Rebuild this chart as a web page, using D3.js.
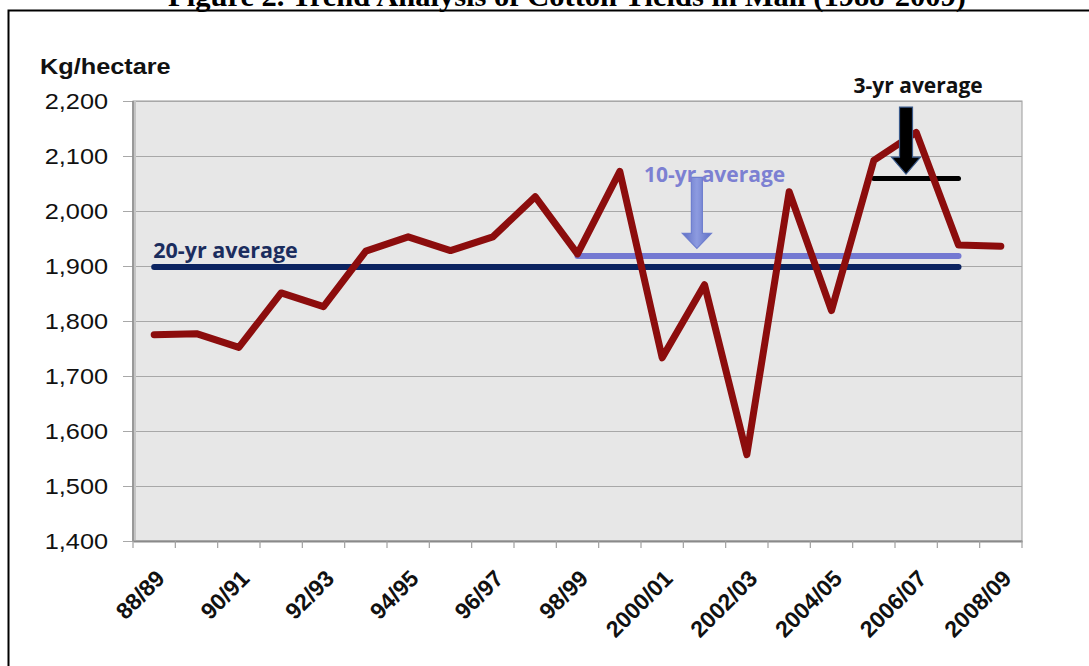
<!DOCTYPE html>
<html>
<head>
<meta charset="utf-8">
<script src="https://cdn.jsdelivr.net/npm/d3@7"></script>
<style>
  body { margin: 0; background: #fff; }
  svg { display: block; }
</style>
</head>
<body>
<div id="chart"></div>
<script>
// Seasons (categories) and cotton yield (kg/ha)
const seasons = ["88/89", "89/90", "90/91", "91/92", "92/93", "93/94", "94/95",
    "95/96", "96/97", "97/98", "98/99", "99/2000", "2000/01", "2001/02", "2002/03",
    "2003/04", "2004/05", "2005/06", "2006/07", "2007/08", "2008/09"];
const yields = [1775, 1777, 1752, 1851, 1826, 1927, 1953, 1928, 1953, 2026, 1922,
    2072, 1733, 1866, 1557, 2035, 1819, 2092, 2143, 1938, 1936];

// Averages: label, value, first and last season
const avgNames = ["20-yr average", "10-yr average", "3-yr average"];
const avgValues = [1898, 1918, 2059];
const avgFrom = ["88/89", "98/99", "2005/06"];
const avgTo = ["2007/08", "2007/08", "2007/08"];

const yTicks = [1400, 1500, 1600, 1700, 1800, 1900, 2000, 2100, 2200];
const xLabels = seasons.filter((d, i) => i % 2 === 0);

// Arrow annotations (season index, top value, tip value)
const arrowIdx = [12.82, 17.76];
const arrowTop = [2061, 2189];
const arrowTip = [1932, 2067];

const colors = {
    line: "#8c0d0d",
    avg: ["#0c2461", "#7479d2", "#000000"],
    labels: ["#1b2d5e", "#7c80d2", "#111111"],
    plotBg: "#e7e7e7",
    grid: "#a8a8a8"
};

const width = 1089, height = 666;
const margin = { left: 133, right: 67, top: 101, bottom: 125 };

const svg = d3.select("#chart").append("svg")
    .attr("width", width)
    .attr("height", height);

// Outer frame and (cut off) title
svg.append("rect")
    .attr("x", 8.5).attr("y", 10.5)
    .attr("width", width + 10).attr("height", height)
    .attr("fill", "none").attr("stroke", "#000").attr("stroke-width", 2);

svg.append("text")
    .attr("x", 168).attr("y", 6)
    .attr("font-family", "Liberation Serif, Times New Roman, serif")
    .attr("font-weight", "bold")
    .attr("font-size", 30)
    .attr("textLength", 798)
    .attr("lengthAdjust", "spacingAndGlyphs")
    .text("Figure 2. Trend Analysis of Cotton Yields in Mali (1988-2009)");

const x = d3.scaleBand()
    .domain(seasons)
    .range([margin.left, width - margin.right]);
const xIdx = d3.scaleLinear()
    .domain([-0.5, seasons.length - 0.5])
    .range([margin.left, width - margin.right]);
const y = d3.scaleLinear()
    .domain([1400, 2200])
    .range([height - margin.bottom, margin.top]);
const cx = d => x(d) + x.bandwidth() / 2;

// Plot area
svg.append("rect")
    .attr("x", margin.left).attr("y", margin.top)
    .attr("width", width - margin.right - margin.left)
    .attr("height", height - margin.bottom - margin.top)
    .attr("fill", colors.plotBg)
    .attr("stroke", "#9a9a9a");

// Y axis with gridlines
const yAxis = svg.append("g")
    .attr("transform", `translate(${margin.left},0)`)
    .call(d3.axisLeft(y).tickValues(yTicks).tickFormat(d3.format(","))
        .tickSize(-(width - margin.right - margin.left)));
yAxis.select(".domain").remove();
yAxis.selectAll(".tick line")
    .attr("stroke", colors.grid)
    .attr("x1", -10);
yAxis.selectAll(".tick text")
    .attr("font-family", "Liberation Sans, Arial, sans-serif")
    .attr("font-size", 22)
    .attr("fill", "#111")
    .attr("dy", "0.36em")
    .attr("x", -25 / 1.15)
    .attr("transform", "scale(1.15,1)");

// Left axis line with soft shadow
svg.append("line")
    .attr("x1", margin.left + 1.5).attr("x2", margin.left + 1.5)
    .attr("y1", margin.top).attr("y2", height - margin.bottom)
    .attr("stroke", "#c4c4c4").attr("stroke-width", 3);
svg.append("line")
    .attr("x1", margin.left).attr("x2", margin.left)
    .attr("y1", margin.top).attr("y2", height - margin.bottom)
    .attr("stroke", "#8a8a8a").attr("stroke-width", 1.5);

// X axis
const xAxis = svg.append("g")
    .attr("transform", `translate(0,${height - margin.bottom})`)
    .call(d3.axisBottom(x).tickSize(0).tickFormat(d => xLabels.includes(d) ? d : ""));
xAxis.select(".domain")
    .attr("stroke", "#8a8a8a").attr("stroke-width", 2);
xAxis.selectAll(".tick text")
    .attr("font-family", "Liberation Sans, Arial, sans-serif")
    .attr("font-weight", "bold")
    .attr("font-size", 23)
    .attr("fill", "#111")
    .attr("text-anchor", "end")
    .attr("y", 0).attr("dy", 0)
    .attr("transform", "translate(12,39) rotate(-45)");

// tick marks at category boundaries
svg.append("g")
    .selectAll("line")
    .data(d3.range(seasons.length + 1))
    .join("line")
    .attr("x1", d => xIdx(d - 0.5)).attr("x2", d => xIdx(d - 0.5))
    .attr("y1", height - margin.bottom).attr("y2", height - margin.bottom + 7)
    .attr("stroke", "#a0a0a0").attr("stroke-width", 1.2);

// Average lines
svg.append("g")
    .selectAll("line")
    .data(avgNames)
    .join("line")
    .attr("x1", (d, i) => cx(avgFrom[i]))
    .attr("x2", (d, i) => cx(avgTo[i]))
    .attr("y1", (d, i) => y(avgValues[i]))
    .attr("y2", (d, i) => y(avgValues[i]))
    .attr("stroke", (d, i) => colors.avg[i])
    .attr("stroke-width", (d, i) => i === 2 ? 5 : 6)
    .attr("stroke-linecap", "round");

// Yield line
svg.append("path")
    .datum(yields)
    .attr("fill", "none")
    .attr("stroke", colors.line)
    .attr("stroke-width", 7)
    .attr("stroke-linejoin", "round")
    .attr("stroke-linecap", "round")
    .attr("d", d3.line().x((d, i) => cx(seasons[i])).y(d => y(d)));

// Block arrows
const defs = svg.append("defs");
const g1 = defs.append("linearGradient").attr("id", "arrowBlue");
g1.append("stop").attr("offset", "0%").attr("stop-color", "#5f6fc4");
g1.append("stop").attr("offset", "50%").attr("stop-color", "#8d9be0");
g1.append("stop").attr("offset", "100%").attr("stop-color", "#5f6fc4");

function arrowPath(i) {
    const xc = xIdx(arrowIdx[i]);
    const top = y(arrowTop[i]), tip = y(arrowTip[i]);
    const shaft = i === 0 ? 5.5 : 6.5, head = 14.5, headLen = i === 0 ? 15 : 17;
    const p = d3.path();
    p.moveTo(xc - shaft, top);
    p.lineTo(xc + shaft, top);
    p.lineTo(xc + shaft, tip - headLen);
    p.lineTo(xc + head, tip - headLen);
    p.lineTo(xc, tip);
    p.lineTo(xc - head, tip - headLen);
    p.lineTo(xc - shaft, tip - headLen);
    p.closePath();
    return p.toString();
}

svg.append("g")
    .selectAll("path")
    .data(arrowIdx)
    .join("path")
    .attr("d", (d, i) => arrowPath(i))
    .attr("fill", (d, i) => i === 0 ? "url(#arrowBlue)" : "#000")
    .attr("stroke", (d, i) => i === 0 ? "#6f7fcf" : "#3b5b8c")
    .attr("stroke-width", 1.2);

// Average labels
const labelPos = [
    { x: cx("88/89") - 1, y: y(1900) - 8 },
    { x: xIdx(11.57), y: y(2052) },
    { x: xIdx(16.52), y: y(2214) }
];
svg.append("g")
    .selectAll("text")
    .data(avgNames)
    .join("text")
    .attr("x", (d, i) => labelPos[i].x)
    .attr("y", (d, i) => labelPos[i].y)
    .attr("font-family", "Open Sans, sans-serif")
    .attr("font-weight", "bold")
    .attr("font-size", (d, i) => i === 0 ? 21.5 : 21)
    .attr("fill", (d, i) => colors.labels[i])
    .text(d => d);

// Y axis title
svg.append("text")
    .attr("transform", "translate(40,74) scale(1.15,1)")
    .attr("font-family", "Liberation Sans, Arial, sans-serif")
    .attr("font-weight", "bold")
    .attr("font-size", 22)
    .attr("fill", "#111")
    .text("Kg/hectare");
</script>
</body>
</html>
